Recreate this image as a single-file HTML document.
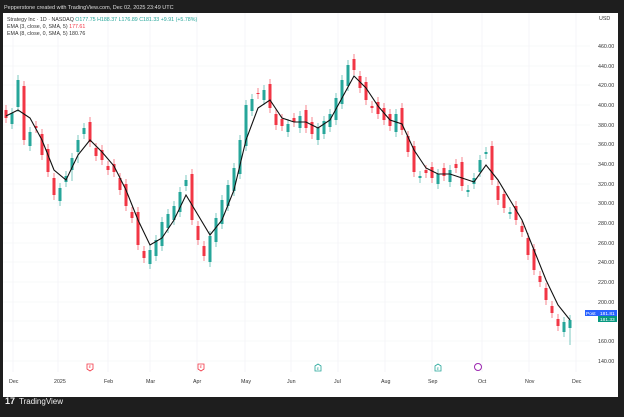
<!DOCTYPE html><html><head><meta charset="utf-8"><style>
body{margin:0;width:624px;height:412px;background:#1e1e1e;overflow:hidden}
</style></head><body>
<svg width="624" height="412" xmlns="http://www.w3.org/2000/svg" font-family="Liberation Sans, sans-serif">
<rect width="624" height="412" fill="#1e1e1e"/>
<text x="4" y="9" fill="#ddd" font-size="5.5">Pepperstone created with TradingView.com, Dec 02, 2025 23:49 UTC</text>
<rect x="3" y="13" width="615" height="384" fill="#fff"/>
<g stroke="#f0f1f4" stroke-width="0.6">
<path d="M3 46H590M3 66H590M3 85H590M3 105H590M3 125H590M3 144H590M3 164H590M3 184H590M3 203H590M3 223H590M3 243H590M3 262H590M3 282H590M3 302H590M3 321H590M3 341H590M3 361H590"/>
<path d="M13 13V372M58 13V372M108 13V372M150 13V372M197 13V372M245 13V372M291 13V372M338 13V372M385 13V372M432 13V372M482 13V372M529 13V372M576 13V372"/>
</g>
<g font-size="5.3" fill="#333">
<text x="598" y="48">460.00</text><text x="598" y="68">440.00</text><text x="598" y="87">420.00</text><text x="598" y="107">400.00</text><text x="598" y="127">380.00</text><text x="598" y="146">360.00</text><text x="598" y="166">340.00</text><text x="598" y="186">320.00</text><text x="598" y="205">300.00</text><text x="598" y="225">280.00</text><text x="598" y="245">260.00</text><text x="598" y="264">240.00</text><text x="598" y="284">220.00</text><text x="598" y="304">200.00</text><text x="598" y="343">160.00</text><text x="598" y="363">140.00</text>
<text x="9" y="383">Dec</text><text x="54" y="383">2025</text><text x="104" y="383">Feb</text><text x="146" y="383">Mar</text><text x="193" y="383">Apr</text><text x="241" y="383">May</text><text x="287" y="383">Jun</text><text x="334" y="383">Jul</text><text x="381" y="383">Aug</text><text x="428" y="383">Sep</text><text x="478" y="383">Oct</text><text x="525" y="383">Nov</text><text x="572" y="383">Dec</text>
</g>
<g stroke="#26a69a" stroke-width="0.6">
<path d="M12 108V129M18 75V112M30 127V151M60 183V206M66 171V187M72 153V181M78 135V163M84 123V139M150 245V269M156 235V261M162 217V251M168 209V233M174 201V225M180 187V217M186 175V191M210 231V267M216 213V247M222 195V229M228 180V211M234 163V196M240 135V179M246 100V151M252 94V116M264 85V105M288 119V137M300 111V133M318 123V145M324 116V139M330 109V132M336 93V125M342 75V109M348 60V91M396 109V137M420 171V183M438 169V189M450 165V187M468 185V197M474 173V189M480 155V177M486 147V159M510 207V219M564 317V337M570 315V345"/>
</g>
<g stroke="#f23645" stroke-width="0.6">
<path d="M6 105V123M24 81V145M36 121V133M42 129V160M48 144V177M54 173V200M90 117V147M96 143V161M102 145V165M108 161V175M114 159V177M120 173V195M126 179V211M132 207V223M138 207V250M144 246V263M192 169V225M198 221V245M204 241V261M258 88V99M270 79V113M276 109V130M282 114V131M294 113V127M306 105V133M312 117V139M354 54V75M360 71V93M366 77V105M372 101V113M378 97V119M384 103V125M390 109V131M402 103V135M408 131V157M414 141V177M426 165V178M432 162V183M444 163V181M456 159V173M462 157V191M492 141V185M498 181V205M504 189V213M516 201V225M522 221V237M528 233V260M534 244V275M540 271V287M546 283V305M552 301V318M558 314V331"/>
</g>
<g fill="#26a69a">
<rect x="10.5" y="113" width="3" height="11"/><rect x="16.5" y="80" width="3" height="27"/><rect x="28.5" y="132" width="3" height="14"/><rect x="58.5" y="188" width="3" height="13"/><rect x="64.5" y="176" width="3" height="6"/><rect x="70.5" y="158" width="3" height="12"/><rect x="76.5" y="140" width="3" height="12"/><rect x="82.5" y="128" width="3" height="6"/><rect x="148.5" y="250" width="3" height="14"/><rect x="154.5" y="240" width="3" height="16"/><rect x="160.5" y="222" width="3" height="24"/><rect x="166.5" y="214" width="3" height="14"/><rect x="172.5" y="206" width="3" height="14"/><rect x="178.5" y="192" width="3" height="20"/><rect x="184.5" y="180" width="3" height="6"/><rect x="208.5" y="236" width="3" height="26"/><rect x="214.5" y="218" width="3" height="24"/><rect x="220.5" y="200" width="3" height="24"/><rect x="226.5" y="185" width="3" height="21"/><rect x="232.5" y="168" width="3" height="23"/><rect x="238.5" y="140" width="3" height="34"/><rect x="244.5" y="105" width="3" height="41"/><rect x="250.5" y="99" width="3" height="12"/><rect x="262.5" y="90" width="3" height="10"/><rect x="286.5" y="124" width="3" height="8"/><rect x="298.5" y="116" width="3" height="12"/><rect x="316.5" y="128" width="3" height="12"/><rect x="322.5" y="121" width="3" height="13"/><rect x="328.5" y="114" width="3" height="13"/><rect x="334.5" y="98" width="3" height="22"/><rect x="340.5" y="80" width="3" height="24"/><rect x="346.5" y="65" width="3" height="21"/><rect x="394.5" y="114" width="3" height="18"/><rect x="418.5" y="176" width="3" height="2"/><rect x="436.5" y="174" width="3" height="10"/><rect x="448.5" y="170" width="3" height="12"/><rect x="466.5" y="190" width="3" height="2"/><rect x="472.5" y="178" width="3" height="6"/><rect x="478.5" y="160" width="3" height="12"/><rect x="484.5" y="152" width="3" height="2"/><rect x="508.5" y="212" width="3" height="2"/><rect x="562.5" y="322" width="3" height="10"/><rect x="568.5" y="320" width="3" height="8"/>
</g>
<g fill="#f23645">
<rect x="4.5" y="110" width="3" height="8"/><rect x="22.5" y="86" width="3" height="54"/><rect x="34.5" y="126" width="3" height="2"/><rect x="40.5" y="134" width="3" height="21"/><rect x="46.5" y="149" width="3" height="23"/><rect x="52.5" y="178" width="3" height="17"/><rect x="88.5" y="122" width="3" height="20"/><rect x="94.5" y="148" width="3" height="8"/><rect x="100.5" y="150" width="3" height="10"/><rect x="106.5" y="166" width="3" height="4"/><rect x="112.5" y="164" width="3" height="8"/><rect x="118.5" y="178" width="3" height="12"/><rect x="124.5" y="184" width="3" height="22"/><rect x="130.5" y="212" width="3" height="6"/><rect x="136.5" y="212" width="3" height="33"/><rect x="142.5" y="251" width="3" height="7"/><rect x="190.5" y="174" width="3" height="46"/><rect x="196.5" y="226" width="3" height="14"/><rect x="202.5" y="246" width="3" height="10"/><rect x="256.5" y="93" width="3" height="1"/><rect x="268.5" y="84" width="3" height="24"/><rect x="274.5" y="114" width="3" height="11"/><rect x="280.5" y="119" width="3" height="7"/><rect x="292.5" y="118" width="3" height="4"/><rect x="304.5" y="110" width="3" height="18"/><rect x="310.5" y="122" width="3" height="12"/><rect x="352.5" y="59" width="3" height="11"/><rect x="358.5" y="76" width="3" height="12"/><rect x="364.5" y="82" width="3" height="18"/><rect x="370.5" y="106" width="3" height="2"/><rect x="376.5" y="102" width="3" height="12"/><rect x="382.5" y="108" width="3" height="12"/><rect x="388.5" y="114" width="3" height="12"/><rect x="400.5" y="108" width="3" height="22"/><rect x="406.5" y="136" width="3" height="16"/><rect x="412.5" y="146" width="3" height="26"/><rect x="424.5" y="170" width="3" height="3"/><rect x="430.5" y="167" width="3" height="11"/><rect x="442.5" y="168" width="3" height="8"/><rect x="454.5" y="164" width="3" height="4"/><rect x="460.5" y="162" width="3" height="24"/><rect x="490.5" y="146" width="3" height="34"/><rect x="496.5" y="186" width="3" height="14"/><rect x="502.5" y="194" width="3" height="14"/><rect x="514.5" y="206" width="3" height="14"/><rect x="520.5" y="226" width="3" height="6"/><rect x="526.5" y="238" width="3" height="17"/><rect x="532.5" y="249" width="3" height="21"/><rect x="538.5" y="276" width="3" height="6"/><rect x="544.5" y="288" width="3" height="12"/><rect x="550.5" y="306" width="3" height="7"/><rect x="556.5" y="319" width="3" height="7"/>
</g>
<polyline fill="none" stroke="#111" stroke-width="1.1" points="6,116 18,110 30,118 42,140 54,170 66,180 78,155 90,140 102,152 114,166 126,190 138,220 150,245 162,238 174,220 186,195 198,215 210,235 222,220 234,190 246,140 258,108 270,100 282,118 294,122 306,122 318,128 330,120 342,98 354,76 366,88 378,106 390,120 402,124 414,150 426,168 438,174 450,174 462,178 474,182 486,165 498,180 510,200 522,220 534,250 546,280 558,305 570,320"/>
<g font-size="5.3" fill="#333">
<text x="7" y="21">Strategy Inc · 1D · NASDAQ <tspan fill="#26a69a">O177.75 H188.37 L176.89 C181.33 +9.91 (+5.78%)</tspan></text>
<text x="7" y="28">EMA (3, close, 0, SMA, 5) <tspan fill="#f23645">177.61</tspan></text>
<text x="7" y="35">EMA (8, close, 0, SMA, 5) 180.76</text>
<text x="599" y="20">USD</text>
</g>
<rect x="585" y="310" width="13" height="6" fill="#2962ff"/><text x="586" y="315" font-size="4.8" fill="#fff">Post</text>
<rect x="598" y="310" width="19" height="6" fill="#2962ff"/><text x="600" y="315" font-size="4.8" fill="#fff">181.81</text>
<rect x="598" y="316" width="19" height="6" fill="#089981"/><text x="600" y="321" font-size="4.8" fill="#fff">181.33</text>
<g text-anchor="middle">
<path d="M87 364h6v5l-3 2l-3-2z" fill="#fff" stroke="#f23645" stroke-width="0.8"/><text x="90" y="368" fill="#f23645" font-size="4">E</text>
<path d="M198 364h6v5l-3 2l-3-2z" fill="#fff" stroke="#f23645" stroke-width="0.8"/><text x="201" y="368" fill="#f23645" font-size="4">E</text>
<path d="M315 366l3-2l3 2v5h-6z" fill="#fff" stroke="#26a69a" stroke-width="0.8"/><text x="318" y="370" fill="#26a69a" font-size="4">E</text>
<path d="M435 366l3-2l3 2v5h-6z" fill="#fff" stroke="#26a69a" stroke-width="0.8"/><text x="438" y="370" fill="#26a69a" font-size="4">E</text>
<circle cx="478" cy="367" r="3.5" fill="none" stroke="#9c27b0" stroke-width="1"/>
</g>
<text x="5" y="404" font-size="9" fill="#eee" font-weight="bold">17</text>
<text x="19" y="404" font-size="8" fill="#eee">TradingView</text>
</svg></body></html>
